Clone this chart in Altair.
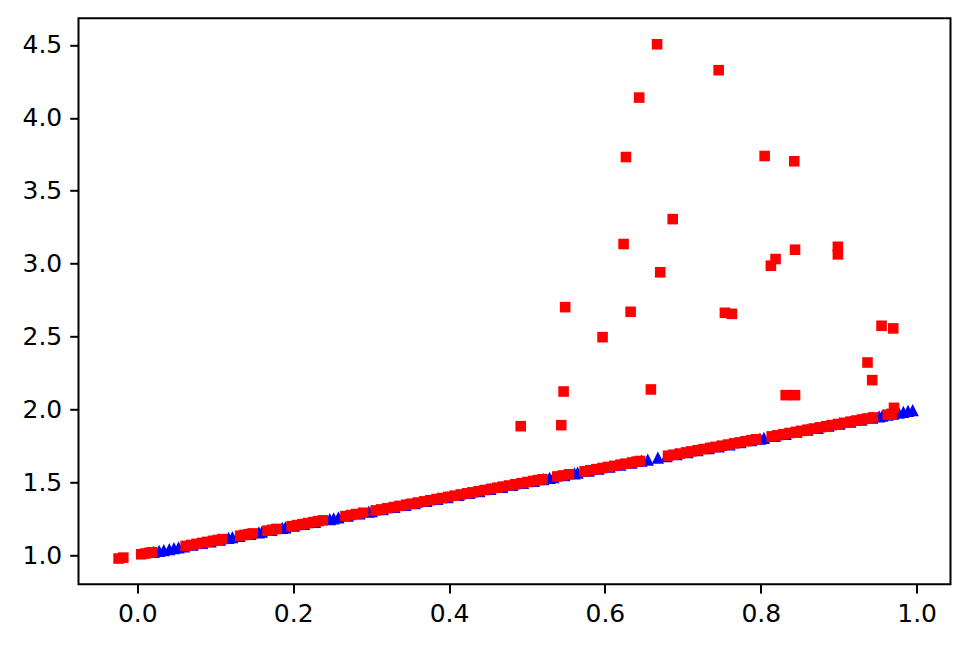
import altair as alt
import pandas as pd

# Blue triangles (on the line)
blue_x = [0.021, 0.028, 0.034, 0.041, 0.047, 0.053, 0.060, 0.071, 0.083, 0.094,
          0.106, 0.117, 0.122, 0.131, 0.145, 0.156, 0.160, 0.172, 0.186, 0.190,
          0.201, 0.214, 0.228, 0.247, 0.252, 0.258, 0.270, 0.285, 0.297, 0.301,
          0.315, 0.330, 0.344, 0.356, 0.371, 0.385, 0.398, 0.412, 0.426, 0.439,
          0.453, 0.468, 0.481, 0.495, 0.509, 0.521, 0.529, 0.534, 0.548, 0.561,
          0.565, 0.579, 0.592, 0.606, 0.620, 0.634, 0.647, 0.655, 0.668, 0.679,
          0.692, 0.706, 0.719, 0.733, 0.746, 0.760, 0.774, 0.788, 0.799, 0.804,
          0.818, 0.832, 0.846, 0.860, 0.873, 0.887, 0.901, 0.915, 0.929, 0.943,
          0.952, 0.956, 0.963, 0.970, 0.977, 0.983, 0.989, 0.995]
blue_y = [1.021, 1.028, 1.034, 1.041, 1.047, 1.053, 1.060, 1.071, 1.083, 1.094,
          1.106, 1.117, 1.122, 1.131, 1.145, 1.156, 1.160, 1.172, 1.186, 1.190,
          1.201, 1.214, 1.228, 1.247, 1.252, 1.258, 1.270, 1.285, 1.297, 1.301,
          1.315, 1.330, 1.344, 1.356, 1.371, 1.385, 1.398, 1.412, 1.426, 1.439,
          1.453, 1.468, 1.481, 1.495, 1.509, 1.521, 1.529, 1.534, 1.548, 1.561,
          1.565, 1.579, 1.592, 1.606, 1.620, 1.634, 1.647, 1.655, 1.668, 1.679,
          1.692, 1.706, 1.719, 1.733, 1.746, 1.760, 1.774, 1.788, 1.799, 1.804,
          1.818, 1.832, 1.846, 1.860, 1.873, 1.887, 1.901, 1.915, 1.929, 1.943,
          1.952, 1.956, 1.963, 1.970, 1.977, 1.983, 1.989, 1.995]

# Red squares on the line
red_line_x = [-0.024, -0.018, 0.005, 0.010, 0.015, 0.019,
              0.062, 0.069, 0.076, 0.083, 0.090, 0.097, 0.103, 0.109,
              0.132, 0.138, 0.143, 0.148,
              0.167, 0.173, 0.179,
              0.198, 0.205, 0.212, 0.219, 0.226, 0.232, 0.238,
              0.267, 0.274, 0.281, 0.290,
              0.306, 0.313, 0.321, 0.329, 0.337, 0.345, 0.352, 0.360, 0.368, 0.376,
              0.384, 0.391, 0.399, 0.407, 0.415, 0.423, 0.430, 0.438, 0.446, 0.454,
              0.462, 0.469, 0.477, 0.485, 0.493, 0.501, 0.508, 0.514, 0.520,
              0.539, 0.546, 0.554,
              0.574, 0.581, 0.589, 0.597, 0.604, 0.612, 0.620, 0.627, 0.635, 0.641, 0.645,
              0.681, 0.688, 0.696, 0.704, 0.711, 0.719, 0.727, 0.735, 0.742, 0.750,
              0.758, 0.766, 0.773, 0.781, 0.788, 0.794,
              0.814, 0.821, 0.829, 0.837, 0.845, 0.852, 0.860, 0.868, 0.876, 0.884,
              0.891, 0.899, 0.907, 0.915, 0.923, 0.930, 0.937, 0.944,
              0.963, 0.968]
red_line_y = [0.976, 0.982, 1.005, 1.010, 1.015, 1.019,
              1.062, 1.069, 1.076, 1.083, 1.090, 1.097, 1.103, 1.109,
              1.132, 1.138, 1.143, 1.148,
              1.167, 1.173, 1.179,
              1.198, 1.205, 1.212, 1.219, 1.226, 1.232, 1.238,
              1.267, 1.274, 1.281, 1.290,
              1.306, 1.313, 1.321, 1.329, 1.337, 1.345, 1.352, 1.360, 1.368, 1.376,
              1.384, 1.391, 1.399, 1.407, 1.415, 1.423, 1.430, 1.438, 1.446, 1.454,
              1.462, 1.469, 1.477, 1.485, 1.493, 1.501, 1.508, 1.514, 1.520,
              1.539, 1.546, 1.554,
              1.574, 1.581, 1.589, 1.597, 1.604, 1.612, 1.620, 1.627, 1.635, 1.641, 1.645,
              1.681, 1.688, 1.696, 1.704, 1.711, 1.719, 1.727, 1.735, 1.742, 1.750,
              1.758, 1.766, 1.773, 1.781, 1.788, 1.794,
              1.814, 1.821, 1.829, 1.837, 1.845, 1.852, 1.860, 1.868, 1.876, 1.884,
              1.891, 1.899, 1.907, 1.915, 1.923, 1.930, 1.937, 1.944,
              1.963, 1.968]

# Red squares off the line (outliers)
red_out_x = [0.492, 0.544, 0.547, 0.659, 0.549, 0.597, 0.624, 0.633, 0.671, 0.687,
             0.754, 0.763, 0.813, 0.819, 0.844, 0.899, 0.899, 0.955, 0.970, 0.937,
             0.943, 0.832, 0.844, 0.971, 0.667, 0.746, 0.644, 0.627, 0.805, 0.843]
red_out_y = [1.884, 1.891, 2.122, 2.136, 2.701, 2.495, 3.134, 2.669, 2.940, 3.305,
             2.662, 2.655, 2.985, 3.031, 3.095, 3.115, 3.063, 2.573, 2.555, 2.321,
             2.200, 2.097, 2.097, 2.010, 4.505, 4.327, 4.139, 3.731, 3.738, 3.702]

x_ticks = [0.0, 0.2, 0.4, 0.6, 0.8, 1.0]
y_ticks = [1.0, 1.5, 2.0, 2.5, 3.0, 3.5, 4.0, 4.5]

blue_df = pd.DataFrame({"x": blue_x, "y": blue_y})
red_df = pd.DataFrame({"x": red_line_x + red_out_x, "y": red_line_y + red_out_y})

FONT = "DejaVu Sans"

xscale = alt.Scale(domain=[-0.0755, 1.0435], nice=False, zero=False)
yscale = alt.Scale(domain=[0.799, 4.683], nice=False, zero=False)

xaxis = alt.Axis(values=x_ticks, format=".1f", title=None, grid=False, domain=False,
                 tickSize=8.75, tickWidth=2, tickColor="black", labelPadding=8,
                 labelFontSize=25, labelFont=FONT, labelColor="black")
yaxis = alt.Axis(values=y_ticks, format=".1f", title=None, grid=False, domain=False,
                 tickSize=8.75, tickWidth=2, tickColor="black", labelPadding=8,
                 labelFontSize=25, labelFont=FONT, labelColor="black")

blue = alt.Chart(blue_df).mark_point(
    shape="M0,-1L-1,1L1,1Z", filled=True, color="#0000ff", opacity=1, size=150
).encode(
    x=alt.X("x:Q", scale=xscale, axis=xaxis),
    y=alt.Y("y:Q", scale=yscale, axis=yaxis),
)

red = alt.Chart(red_df).mark_point(
    shape="square", filled=True, color="#ff0000", opacity=1, size=112
).encode(
    x=alt.X("x:Q", scale=xscale, axis=xaxis),
    y=alt.Y("y:Q", scale=yscale, axis=yaxis),
)

chart = alt.layer(blue, red).properties(
    width=872, height=566,
    background="white",
    autosize=alt.AutoSizeParams(type="none"),
    padding={"left": 70.5, "top": 10.3, "right": 10, "bottom": 56},
).configure_view(stroke="black", strokeWidth=2)

chart.save("out.html", embed_options={"renderer": "svg", "actions": False})
